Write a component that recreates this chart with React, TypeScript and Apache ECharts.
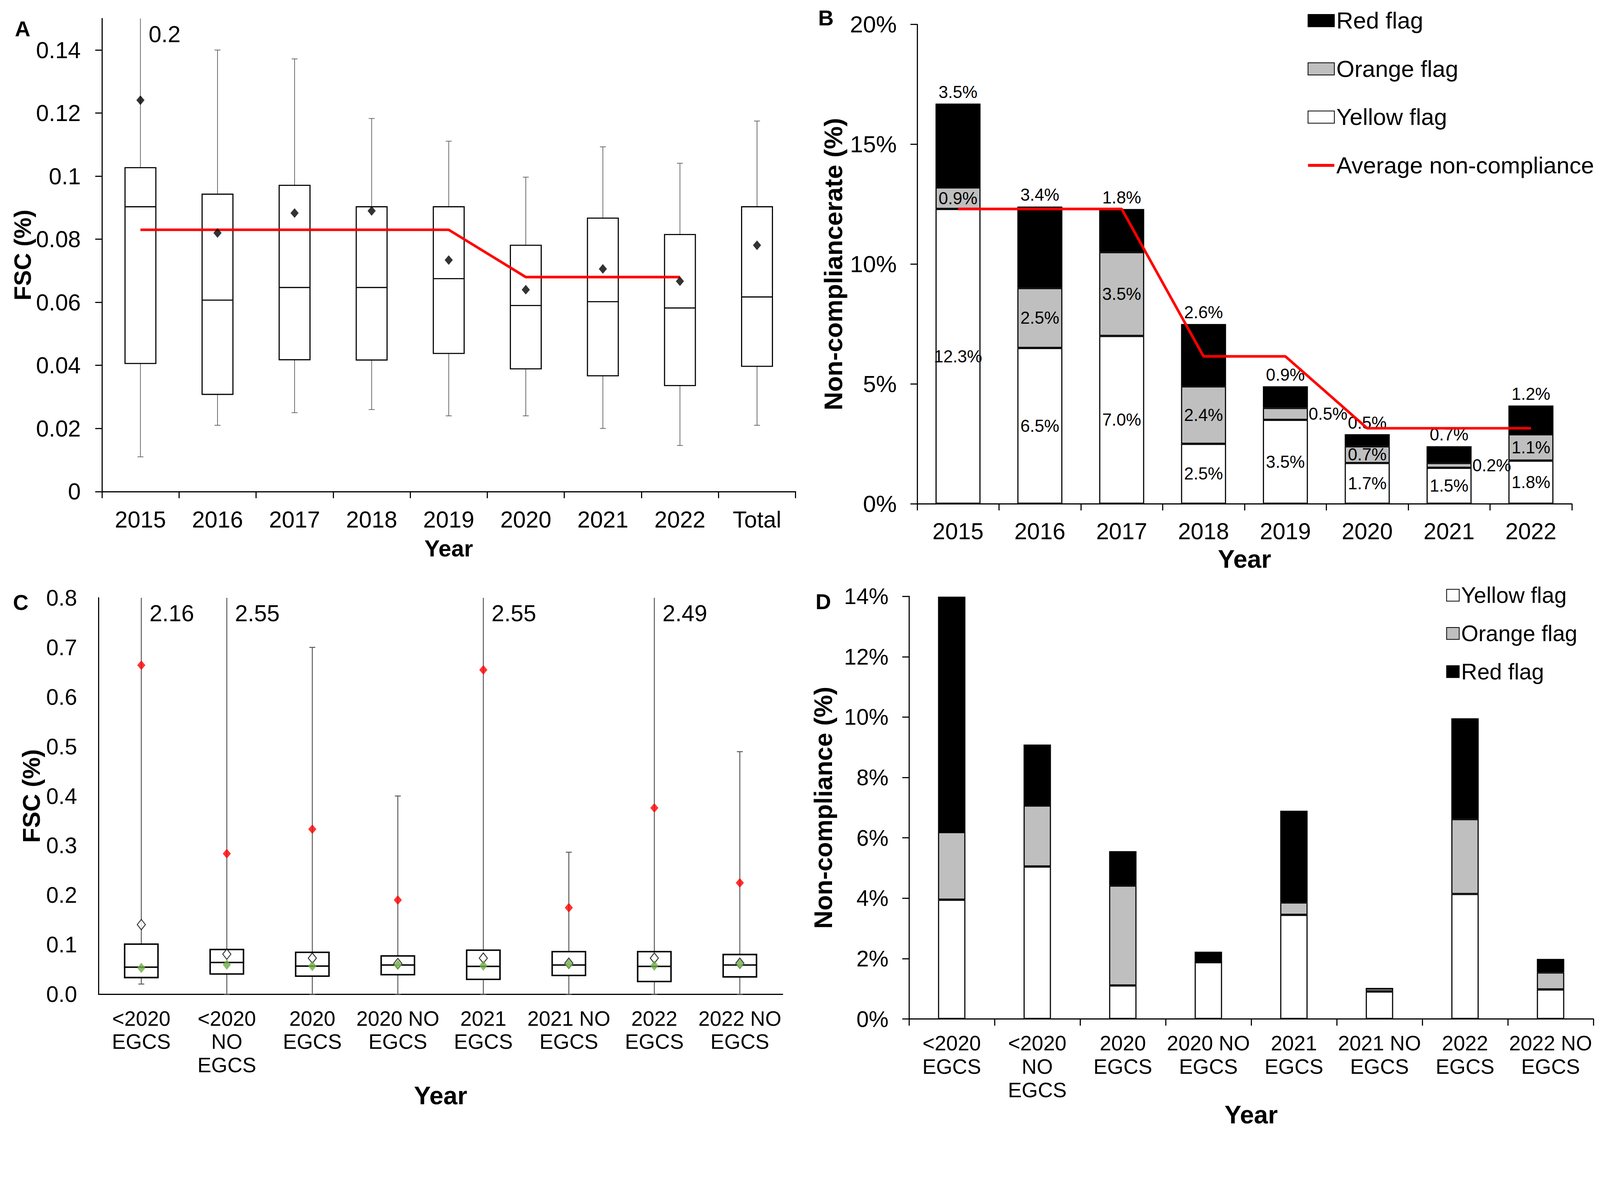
import React, { useEffect, useRef, useState } from 'react';
import * as echarts from 'echarts';

const FONT = "'Liberation Sans', Arial, Helvetica, sans-serif";
const DESIGN_W = 4318;
const DESIGN_H = 3045;

// ---------- Panel A: FSC box plots by year ----------
const yearsA = ['2015', '2016', '2017', '2018', '2019', '2020', '2021', '2022', 'Total'];
const boxMinA = [0.011, 0.021, 0.025, 0.026, 0.024, 0.024, 0.020, 0.0146, 0.021];
const boxQ1A = [0.0406, 0.0308, 0.0418, 0.0417, 0.0438, 0.0389, 0.0367, 0.0336, 0.0397];
const boxMedA = [0.0903, 0.0607, 0.0647, 0.0647, 0.0675, 0.059, 0.0602, 0.0582, 0.0617];
const boxQ3A = [0.1027, 0.0943, 0.0971, 0.0903, 0.0903, 0.0781, 0.0867, 0.0815, 0.0903];
const boxMaxA = [0.2, 0.14, 0.1372, 0.1183, 0.1111, 0.0997, 0.1093, 0.1041, 0.1175];
const meanA = [0.1241, 0.082, 0.0883, 0.089, 0.0734, 0.064, 0.0706, 0.0667, 0.0781];
const avgLineA = [0.083, 0.083, 0.083, 0.083, 0.083, 0.068, 0.068, 0.068, null];

// ---------- Panel B: non-compliance rate stacked by flag ----------
const yearsB = ['2015', '2016', '2017', '2018', '2019', '2020', '2021', '2022'];
const yellowB = [12.3, 6.5, 7.0, 2.5, 3.5, 1.7, 1.5, 1.8];
const orangeB = [0.9, 2.5, 3.5, 2.4, 0.5, 0.7, 0.2, 1.1];
const redB = [3.5, 3.4, 1.8, 2.6, 0.9, 0.5, 0.7, 1.2];
const avgB = [12.3, 12.3, 12.3, 6.15, 6.15, 3.15, 3.15, 3.15];

// ---------- Panel C: FSC box plots by group ----------
const groupsC = ['<2020\nEGCS', '<2020\nNO\nEGCS', '2020\nEGCS', '2020 NO\nEGCS', '2021\nEGCS', '2021 NO\nEGCS', '2022\nEGCS', '2022 NO\nEGCS'];
const boxMinC = [0.0204, 0, 0, 0, 0, 0, 0, 0];
const boxQ1C = [0.0335, 0.0407, 0.0364, 0.0393, 0.0298, 0.0378, 0.0255, 0.0349];
const boxMedC = [0.0545, 0.064, 0.0567, 0.0589, 0.056, 0.0589, 0.056, 0.0589];
const boxQ3C = [0.101, 0.0902, 0.0844, 0.0771, 0.0887, 0.0858, 0.0858, 0.08];
const boxMaxC = [2.16, 2.55, 0.70, 0.40, 2.55, 0.2865, 2.49, 0.4895];
const openC = [0.1404, 0.0807, 0.0727, 0.0618, 0.0727, 0.0625, 0.0727, 0.0625];
const greenC = [0.053, 0.0596, 0.0567, 0.059, 0.0575, 0.0604, 0.0575, 0.061];
const redC = [0.664, 0.2836, 0.333, 0.19, 0.6545, 0.1745, 0.376, 0.2247];

// ---------- Panel D: non-compliance by group ----------
const groupsD = groupsC;
const yellowD = [3.95, 5.05, 1.11, 1.88, 3.45, 0.91, 4.14, 0.98];
const orangeD = [2.24, 2.02, 3.31, 0, 0.41, 0.1, 2.48, 0.56];
const redD = [7.8, 2.02, 1.14, 0.35, 3.04, 0, 3.34, 0.45];

const AXIS_MAX_A = 0.15;
const AXIS_MAX_C = 0.8;

function boxRenderer(S: number, axisMax: number, ratio: number, boxLw: number, whiskerColor: string, whiskerLw: number) {
  return (params: any, api: any) => {
    const i = api.value(0);
    const lo = api.value(1);
    const q1 = api.value(2);
    const med = api.value(3);
    const q3 = api.value(4);
    const hi = api.value(5);
    const band = api.size([1, 0])[0];
    const bw = band * ratio;
    const cx = api.coord([i, med])[0];
    const y = (v: number) => api.coord([i, v])[1];
    const clipped = hi > axisMax;
    const yHi = y(Math.min(hi, axisMax));
    const capW = 16 * S;
    const wStyle = { stroke: whiskerColor, lineWidth: whiskerLw * S };
    const children: any[] = [
      { type: 'line', shape: { x1: cx, y1: y(q3), x2: cx, y2: yHi }, style: wStyle },
      { type: 'line', shape: { x1: cx, y1: y(q1), x2: cx, y2: y(lo) }, style: wStyle },
      { type: 'line', shape: { x1: cx - capW / 2, y1: y(lo), x2: cx + capW / 2, y2: y(lo) }, style: wStyle },
      {
        type: 'rect',
        shape: { x: cx - bw / 2, y: y(q3), width: bw, height: y(q1) - y(q3) },
        style: { fill: '#fff', stroke: '#000', lineWidth: boxLw * S },
      },
      { type: 'line', shape: { x1: cx - bw / 2, y1: y(med), x2: cx + bw / 2, y2: y(med) }, style: { stroke: '#000', lineWidth: boxLw * S } },
    ];
    if (!clipped) {
      children.push({ type: 'line', shape: { x1: cx - capW / 2, y1: yHi, x2: cx + capW / 2, y2: yHi }, style: wStyle });
    } else {
      children.push({
        type: 'text',
        x: cx + 22 * S,
        y: yHi + 42 * S,
        style: { text: String(hi), fill: '#000', fontSize: 62 * S, fontFamily: FONT, verticalAlign: 'middle', align: 'left' },
      });
    }
    return { type: 'group', children };
  };
}

function buildOption(S: number): any {
  const k = (v: number) => v * S;
  const axisBase = (fontSize: number, margin: number, tick: boolean) => ({
    axisLine: { show: true, onZero: false, lineStyle: { color: '#000', width: k(3) } },
    axisTick: { show: tick, length: k(18), lineStyle: { color: '#000', width: k(3) } },
    splitLine: { show: false },
    axisLabel: { color: '#000', fontSize: k(fontSize), fontFamily: FONT, margin: k(margin) },
  });
  const nameStyle = (size: number) => ({ fontSize: k(size), fontWeight: 'bold', fontFamily: FONT, color: '#000' });
  const barBorder = { borderColor: '#000', borderWidth: k(3) };
  const pct = (p: any) => Number(p.value).toFixed(1) + '%';
  const lblStyle = { show: true, color: '#000', fontSize: k(46), fontFamily: FONT, formatter: pct };

  const xCat = (idx: number, data: string[], fontSize: number, margin: number, tick: boolean, nameGap: number, nameSize: number, lh?: number) => {
    const base: any = axisBase(fontSize, margin, tick);
    return {
      type: 'category',
      gridIndex: idx,
      data,
      boundaryGap: true,
      ...base,
      axisTick: { ...base.axisTick, alignWithLabel: false, interval: 0 },
      axisLabel: { ...base.axisLabel, interval: 0, lineHeight: lh ? k(lh) : undefined },
      name: 'Year',
      nameLocation: 'middle',
      nameGap: k(nameGap),
      nameTextStyle: nameStyle(nameSize),
    };
  };

  const yVal = (idx: number, min: number, max: number, interval: number, fontSize: number, margin: number, tick: boolean, formatter: any, name: string, nameGap: number, nameSize: number, extraLabel: any = {}) => {
    const base: any = axisBase(fontSize, margin, tick);
    return {
      type: 'value', gridIndex: idx, min, max, interval,
      ...base,
      axisLabel: { ...base.axisLabel, formatter, ...extraLabel },
      name, nameLocation: 'middle', nameGap: k(nameGap), nameTextStyle: nameStyle(nameSize),
    };
  };

  const letter = (t: string, x: number, y: number) => ({
    type: 'text', x: k(x), y: k(y),
    style: { text: t, fontSize: k(58), fontWeight: 'bold', fontFamily: FONT, fill: '#000', verticalAlign: 'middle' },
  });

  return {
    animation: false,
    backgroundColor: '#fff',
    textStyle: { fontFamily: FONT },
    grid: [
      { left: k(275), top: k(50), width: k(1872), height: k(1277) },
      { left: k(2475), top: k(66), width: k(1767), height: k(1294) },
      { left: k(266), top: k(1614), width: k(1846), height: k(1070) },
      { left: k(2453), top: k(1610), width: k(1847), height: k(1165) },
    ],
    xAxis: [
      xCat(0, yearsA, 62, 45, true, 122, 62),
      xCat(1, yearsB, 62, 43, true, 115, 68),
      xCat(2, groupsC, 56, 34, false, 240, 68, 63),
      xCat(3, groupsD, 56, 34, true, 194, 68, 63),
    ],
    yAxis: [
      yVal(0, 0, AXIS_MAX_A, 0.02, 62, 57, true, (v: number) => String(parseFloat(v.toFixed(2))), 'FSC (%)', 169, 64, { showMaxLabel: false }),
      yVal(1, 0, 20, 5, 63, 55, true, '{value}%', 'Non-compliancerate (%)', 192, 69),
      yVal(2, 0, AXIS_MAX_C, 0.1, 60, 58, false, (v: number) => v.toFixed(1), 'FSC (%)', 148, 66),
      yVal(3, 0, 14, 2, 60, 55, true, '{value}%', 'Non-compliance (%)', 196, 68),
    ],
    legend: [
      {
        left: k(3529), top: k(24), orient: 'vertical', padding: 0, itemWidth: k(71), itemHeight: k(33), itemGap: k(67),
        selectedMode: false,
        textStyle: { fontSize: k(63), fontFamily: FONT, color: '#000' },
        data: [
          { name: 'Red flag', icon: 'rect' },
          { name: 'Orange flag', icon: 'rect' },
          { name: 'Yellow flag', icon: 'rect' },
          { name: 'Average non-compliance', icon: 'path://M0,0L100,0L100,11L0,11Z' },
        ],
      },
      {
        left: k(3903), top: k(1577), orient: 'vertical', padding: 0, itemWidth: k(34), itemHeight: k(32), itemGap: k(43),
        selectedMode: false,
        textStyle: { fontSize: k(60), fontFamily: FONT, color: '#000' },
        data: [
          { name: 'Yellow flag', icon: 'rect' },
          { name: 'Orange flag', icon: 'rect' },
          { name: 'Red flag', icon: 'rect' },
        ],
      },
    ],
    graphic: [letter('A', 40, 78), letter('B', 2208, 49), letter('C', 35, 1627), letter('D', 2201, 1624)],
    series: [
      // ----- A -----
      {
        type: 'custom', name: 'boxA', xAxisIndex: 0, yAxisIndex: 0, clip: false,
        renderItem: boxRenderer(S, AXIS_MAX_A, 0.4, 3, '#666', 2),
        encode: { x: 0, y: [1, 2, 3, 4, 5] },
        data: yearsA.map((_, i) => [i, boxMinA[i], boxQ1A[i], boxMedA[i], boxQ3A[i], boxMaxA[i]]),
        z: 2,
      },
      {
        type: 'line', name: 'avgA', xAxisIndex: 0, yAxisIndex: 0, data: avgLineA,
        symbol: 'none', lineStyle: { color: '#FF0000', width: k(7) }, itemStyle: { color: '#FF0000' }, z: 3,
      },
      {
        type: 'scatter', name: 'meanA', xAxisIndex: 0, yAxisIndex: 0, data: meanA,
        symbol: 'diamond', symbolSize: [k(22), k(26)], itemStyle: { color: '#000' }, z: 4,
      },
      // ----- B -----
      {
        type: 'bar', name: 'Yellow flag', xAxisIndex: 1, yAxisIndex: 1, stack: 'B', barWidth: '55%',
        data: yellowB, itemStyle: { color: '#fff', ...barBorder },
        label: { ...lblStyle, position: 'inside' },
      },
      {
        type: 'bar', name: 'Orange flag', xAxisIndex: 1, yAxisIndex: 1, stack: 'B', barWidth: '55%',
        data: orangeB.map((v) => (v < 0.6 ? { value: v, label: { position: 'right', distance: k(2) } } : v)),
        itemStyle: { color: '#BFBFBF', ...barBorder },
        label: { ...lblStyle, position: 'inside' },
      },
      {
        type: 'bar', name: 'Red flag', xAxisIndex: 1, yAxisIndex: 1, stack: 'B', barWidth: '55%',
        data: redB, itemStyle: { color: '#000', ...barBorder },
        label: { ...lblStyle, position: 'top', distance: k(8) },
      },
      {
        type: 'line', name: 'Average non-compliance', xAxisIndex: 1, yAxisIndex: 1, data: avgB,
        symbol: 'none', color: '#FF0000', lineStyle: { color: '#FF0000', width: k(7) }, itemStyle: { color: '#FF0000' }, z: 5,
      },
      // ----- C -----
      {
        type: 'custom', name: 'boxC', xAxisIndex: 2, yAxisIndex: 2, clip: false,
        renderItem: boxRenderer(S, AXIS_MAX_C, 0.39, 4, '#555', 2.5),
        encode: { x: 0, y: [1, 2, 3, 4, 5] },
        data: groupsC.map((_, i) => [i, boxMinC[i], boxQ1C[i], boxMedC[i], boxQ3C[i], boxMaxC[i]]),
        z: 2,
      },
      {
        type: 'scatter', name: 'openC', xAxisIndex: 2, yAxisIndex: 2, data: openC,
        symbol: 'diamond', symbolSize: [k(22), k(28)], itemStyle: { color: '#fff', borderColor: '#000', borderWidth: k(2.5) }, z: 3,
      },
      {
        type: 'scatter', name: 'greenC', xAxisIndex: 2, yAxisIndex: 2, data: greenC,
        symbol: 'diamond', symbolSize: [k(22), k(28)], itemStyle: { color: '#70AD47' }, z: 4,
      },
      {
        type: 'scatter', name: 'redC', xAxisIndex: 2, yAxisIndex: 2, data: redC,
        symbol: 'diamond', symbolSize: [k(22), k(26)], itemStyle: { color: '#FF0000' }, z: 4,
      },
      // ----- D -----
      {
        type: 'bar', name: 'Yellow flag', xAxisIndex: 3, yAxisIndex: 3, stack: 'D', barWidth: '32%',
        data: yellowD, itemStyle: { color: '#fff', ...barBorder },
      },
      {
        type: 'bar', name: 'Orange flag', xAxisIndex: 3, yAxisIndex: 3, stack: 'D', barWidth: '32%',
        data: orangeD, itemStyle: { color: '#BFBFBF', ...barBorder },
      },
      {
        type: 'bar', name: 'Red flag', xAxisIndex: 3, yAxisIndex: 3, stack: 'D', barWidth: '32%',
        data: redD, itemStyle: { color: '#000', ...barBorder },
      },
    ],
  };
}

export default function App() {
  const ref = useRef<HTMLDivElement>(null);
  const [S] = useState(() => {
    const w = typeof window !== 'undefined' ? window.innerWidth : DESIGN_W;
    const h = typeof window !== 'undefined' ? window.innerHeight : DESIGN_H;
    const s = Math.min(w / DESIGN_W, h / DESIGN_H);
    return s > 0 ? s : 1;
  });
  useEffect(() => {
    document.body.style.margin = '0';
    document.body.style.overflow = 'hidden';
    const chart = echarts.init(ref.current as HTMLDivElement, null, { renderer: 'svg' });
    chart.setOption(buildOption(S));
    return () => chart.dispose();
  }, [S]);
  return (
    <div
      ref={ref}
      style={{ position: 'absolute', left: 0, top: 0, width: DESIGN_W * S, height: DESIGN_H * S, background: '#fff' }}
    />
  );
}
